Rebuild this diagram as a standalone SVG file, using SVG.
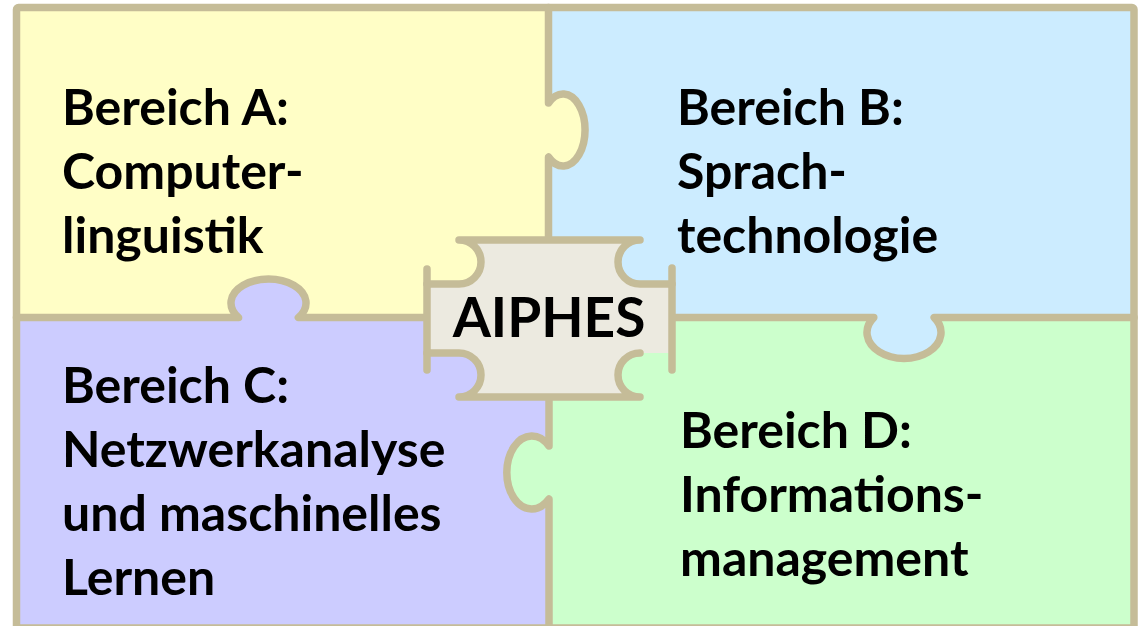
<svg xmlns="http://www.w3.org/2000/svg" width="1138" height="626" viewBox="0 0 1138 626">
<style>
.ln{fill:none;stroke:#C5BC98;stroke-width:7.5;stroke-linecap:round;stroke-linejoin:round}
.t{font-family:Lato,"Liberation Sans",sans-serif;font-weight:bold;font-size:50px;fill:#000}
.c{font-family:Lato,"Liberation Sans",sans-serif;font-weight:bold;font-size:55px;fill:#000;text-anchor:middle}
</style>
<rect width="1138" height="626" fill="#ffffff"/>
<g id="regionA">
<path d="M16.5,7.5 H548.5 V103 A22,36 0 1 1 548.5,157 V317.5 H298.4 A37.5,24 0 1 0 238.6,317.5 H16.5 Z" fill="#FFFEC6"/>
<text class="t" x="62" y="125">Bereich A:</text>
<text class="t" x="62" y="189">Computer-</text>
<text class="t" x="62" y="253">linguistik</text>
</g>
<g id="regionB">
<path d="M548.5,7.5 H1134 V317.5 H934.2 A37,26 0 1 1 873.8,317.5 H548.5 V157 A22,36 0 1 0 548.5,103 Z" fill="#CCECFF"/>
<text class="t" x="677" y="125">Bereich B:</text>
<text class="t" x="677" y="189">Sprach-</text>
<text class="t" x="677" y="253">technologie</text>
</g>
<g id="regionC">
<path d="M16.5,317.5 H238.6 A37.5,24 0 1 1 298.4,317.5 H549 V446 A25,36.5 0 1 0 549,499 V628 H16.5 Z" fill="#CCCCFF"/>
<text class="t" x="62" y="403">Bereich C:</text>
<text class="t" x="62" y="467">Netzwerkanalyse</text>
<text class="t" x="62" y="531">und maschinelles</text>
<text class="t" x="62" y="595">Lernen</text>
</g>
<g id="regionD">
<path d="M549,317.5 H873.8 A37,26 0 1 0 934.2,317.5 H1134 V628 H549 V499 A25,36.5 0 1 1 549,446 Z" fill="#CCFFCC"/>
<text class="t" x="680" y="448">Bereich D:</text>
<text class="t" x="680" y="512">Informations-</text>
<text class="t" x="680" y="576">management</text>
</g>
<g id="connectors">
<rect class="ln" x="16.5" y="7.5" width="1117.5" height="620.5" rx="2"/>
<path class="ln" d="M548.5,7.5 V103 A22,36 0 1 1 548.5,157 V245"/>
<path class="ln" d="M549,395 V446 A25,36.5 0 1 0 549,499 V628"/>
<path class="ln" d="M16.5,317.5 H238.6 A37.5,24 0 1 1 298.4,317.5 H430"/>
<path class="ln" d="M670,317.5 H873.8 A37,26 0 1 0 934.2,317.5 H1134"/>
</g>
<g id="aiphes">
<path d="M459,240 L640,240 A22,22 0 0 0 640,284 L672,284 L672,353 L640,353 A22,22 0 0 0 640,397 L459,397 A22,22 0 0 0 459,353 L427,353 L427,284 L459,284 A22,22 0 0 0 459,240 Z" fill="#ECEAE0"/>
<path class="ln" d="M459,240 L640,240 A22,22 0 0 0 640,284 L672,284 M640,353 A22,22 0 0 0 640,397 L459,397 A22,22 0 0 0 459,353 L427,353 M427,284 L459,284 A22,22 0 0 0 459,240"/>
<path class="ln" d="M427,269 V370 M672,268 V370"/>
<text class="c" x="549" y="337">AIPHES</text>
</g>
</svg>
